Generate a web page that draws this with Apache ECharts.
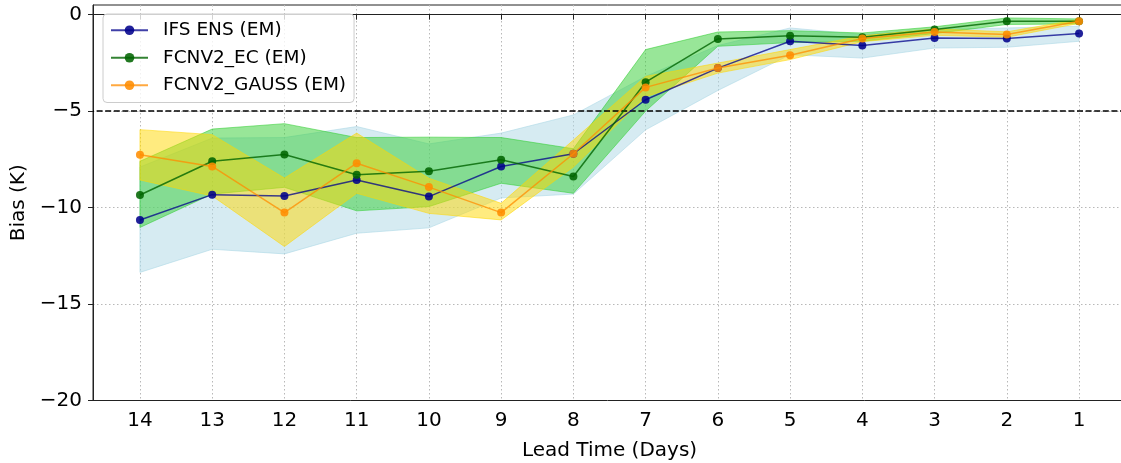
<!DOCTYPE html>
<html><head><meta charset="utf-8">
<script src="https://cdn.jsdelivr.net/npm/echarts@6/dist/echarts.min.js"></script>
<style>html,body{margin:0;padding:0;background:#fff}#c{width:1121px;height:463px}</style>
</head><body><div id="c"></div>
<script>
const leadDays = [14,13,12,11,10,9,8,7,6,5,4,3,2,1];
const xTicks = leadDays;
const yTicks = [-20,-15,-10,-5,0];
const threshold = -5;

const ifsMean  = [-10.64,-9.33,-9.40,-8.57,-9.43,-7.87,-7.21,-4.41,-2.77,-1.38,-1.60,-1.21,-1.24,-0.98];
const ifsUpper = [-7.90,-6.40,-6.37,-5.80,-6.70,-6.14,-5.20,-3.20,-1.60,-0.69,-1.03,-0.77,-0.69,-0.60];
const ifsLower = [-13.36,-12.16,-12.40,-11.33,-11.05,-9.50,-9.30,-5.97,-3.93,-2.08,-2.25,-1.73,-1.69,-1.38];

const ecMean  = [-9.35,-7.60,-7.25,-8.30,-8.12,-7.52,-8.39,-3.50,-1.26,-1.09,-1.17,-0.77,-0.34,-0.34];
const ecUpper = [-7.60,-5.93,-5.65,-6.37,-6.35,-6.37,-6.95,-1.81,-0.90,-0.83,-0.95,-0.63,-0.17,-0.22];
const ecLower = [-11.03,-9.30,-8.95,-10.17,-9.95,-8.74,-9.26,-5.00,-1.64,-1.45,-1.38,-0.98,-0.51,-0.48];

const gaussMean  = [-7.26,-7.87,-10.26,-7.70,-8.94,-10.26,-7.21,-3.77,-2.77,-2.11,-1.24,-0.90,-1.03,-0.34];
const gaussUpper = [-5.96,-6.22,-8.47,-6.14,-8.48,-9.78,-6.50,-3.20,-2.51,-1.81,-1.10,-0.74,-0.89,-0.25];
const gaussLower = [-8.57,-9.40,-12.02,-9.26,-10.30,-10.64,-7.90,-4.25,-3.03,-2.33,-1.40,-1.07,-1.17,-0.45];

const FONT = 'DejaVu Sans';
const GRIDC = '#b8b8b8';
const fmt = v => (v < 0 ? '\u2212' + Math.abs(v) : String(v));

function band(name, lower, upper, fill, stroke, z) {
  return {
    type: 'custom', name: name, silent: true, z: z, clip: true, animation: false,
    data: [[leadDays[0], upper[0]]],
    renderItem: function (params, api) {
      const pts = [];
      for (let i = 0; i < leadDays.length; i++) pts.push(api.coord([leadDays[i], upper[i]]));
      for (let i = leadDays.length - 1; i >= 0; i--) pts.push(api.coord([leadDays[i], lower[i]]));
      return { type: 'polygon', shape: { points: pts }, style: { fill: fill, stroke: stroke, lineWidth: 1 } };
    }
  };
}

function line(name, mean, lineColor, markColor, z) {
  return {
    type: 'line', name: name, z: z, animation: false,
    data: leadDays.map((d, i) => [d, mean[i]]),
    symbol: 'circle', symbolSize: 8, showSymbol: true,
    lineStyle: { color: lineColor, width: 1.5 },
    itemStyle: { color: markColor }
  };
}

const chart = echarts.init(document.getElementById('c'));
const ifsLine = line('IFS ENS (EM)', ifsMean, 'rgba(0,0,139,0.75)', 'rgba(0,0,139,0.87)', 10);
ifsLine.markLine = {
  silent: true, symbol: ['none', 'none'], label: { show: false }, animation: false,
  lineStyle: { color: '#000', type: [6, 2.6], width: 1.5 },
  data: [{ yAxis: threshold }]
};

chart.setOption({
  backgroundColor: '#fff',
  animation: false,
  grid: { left: 93, width: 1033, top: 5, height: 395.5, outerBoundsMode: 'none', containLabel: false,
          show: true, borderColor: '#222', borderWidth: 1, backgroundColor: 'transparent' },
  legend: {
    data: ['IFS ENS (EM)', 'FCNV2_EC (EM)', 'FCNV2_GAUSS (EM)'],
    orient: 'vertical', left: 103, top: 14,
    padding: [6.75, 8, 7.75, 7],
    itemGap: 8.5, itemWidth: 37, itemHeight: 12,
    backgroundColor: 'rgba(255,255,255,0.8)', borderColor: '#cccccc', borderWidth: 1, borderRadius: 4,
    textStyle: { fontFamily: FONT, fontSize: 18.5, color: '#000', padding: [0, 0, 0, 10] }
  },
  xAxis: {
    type: 'value', inverse: true, min: 0.35, max: 14.65,
    name: 'Lead Time (Days)', nameLocation: 'middle', nameGap: 40,
    nameTextStyle: { fontFamily: FONT, fontSize: 20, color: '#000' },
    axisLine: { show: true, lineStyle: { color: '#222', width: 1 } },
    axisTick: { show: true, length: 5, customValues: xTicks, lineStyle: { color: '#222', width: 1 } },
    axisLabel: { customValues: xTicks, fontFamily: FONT, fontSize: 20, color: '#000', margin: 10 },
    splitLine: { show: true, lineStyle: { color: GRIDC, width: 1, type: [1.5, 2.5] } }
  },
  yAxis: {
    type: 'value', min: -20, max: 0.5,
    name: 'Bias (K)', nameLocation: 'middle', nameGap: 57, nameRotate: 90,
    nameTextStyle: { fontFamily: FONT, fontSize: 20, color: '#000' },
    axisLine: { show: true, lineStyle: { color: '#222', width: 1 } },
    axisTick: { show: true, length: 5, customValues: yTicks, lineStyle: { color: '#222', width: 1 } },
    axisLabel: { customValues: yTicks, fontFamily: FONT, fontSize: 20, color: '#000', margin: 11, formatter: fmt },
    splitLine: { show: true, lineStyle: { color: ['rgba(0,0,0,0)', GRIDC, GRIDC, GRIDC, GRIDC], width: 1, type: [1.5, 2.5] } }
  },
  series: [
    band('IFS band', ifsLower, ifsUpper, 'rgba(173,216,230,0.5)', 'rgba(173,216,230,0.6)', 1),
    band('EC band', ecLower, ecUpper, 'rgba(50,205,50,0.5)', 'rgba(50,205,50,0.55)', 2),
    band('GAUSS band', gaussLower, gaussUpper, 'rgba(255,215,0,0.5)', 'rgba(255,215,0,0.55)', 3),
    ifsLine,
    line('FCNV2_EC (EM)', ecMean, 'rgba(0,100,0,0.8)', 'rgba(0,100,0,0.87)', 11),
    line('FCNV2_GAUSS (EM)', gaussMean, 'rgba(255,140,0,0.75)', 'rgba(255,140,0,0.87)', 12)
  ]
});
</script></body></html>
